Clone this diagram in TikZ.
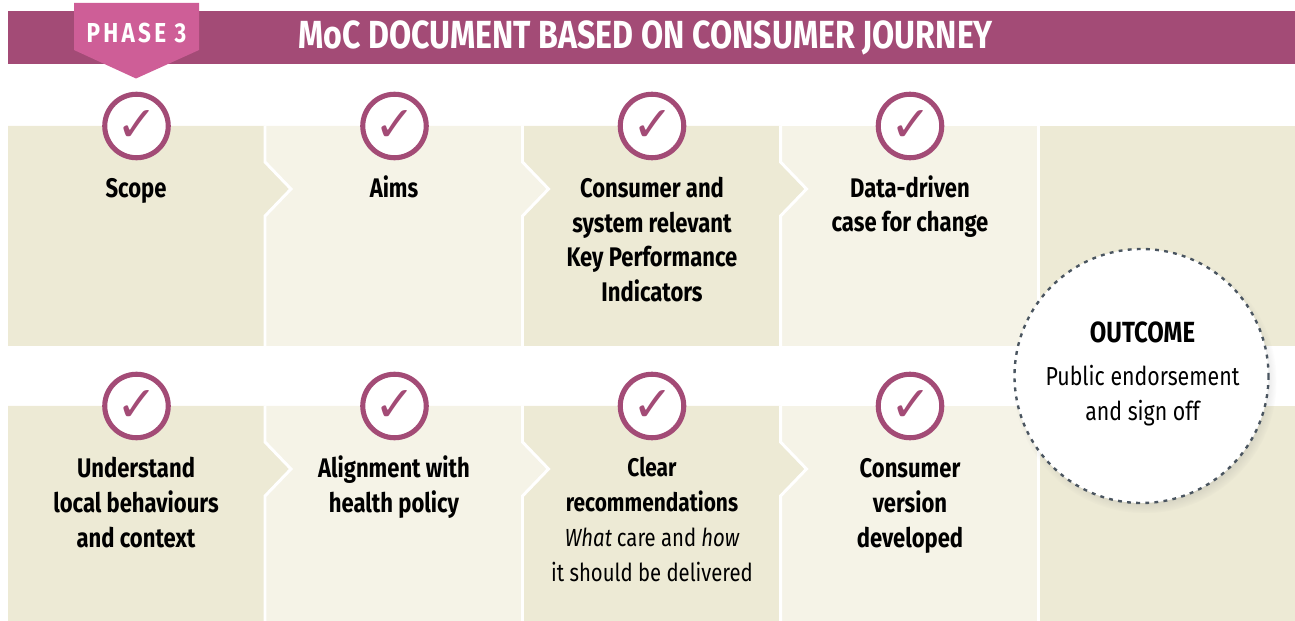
\documentclass[tikz,border=0pt]{standalone}
\usepackage{fontspec}
\setmainfont{Fira Sans}[FakeStretch=0.82]
\newfontfamily\tickfont{DejaVu Sans}
\usetikzlibrary{shadows}
\definecolor{barplum}{HTML}{A34B76}
\definecolor{tagpink}{HTML}{CE5E97}
\definecolor{paneldark}{HTML}{EDEAD5}
\definecolor{panellight}{HTML}{F5F3E7}
\definecolor{dotgrey}{HTML}{4A5560}
\newcommand{\panelbox}[4]{\fill[#1] (#2,#3) -- (#2+257,#3) -- (#2+257,#3+36) -- (#2+283,#3+63) -- (#2+257,#3+90) -- (#2+257,#4) -- (#2,#4) -- cycle;
\draw[panelgap] (#2+257,#3) -- (#2+257,#3+36) -- (#2+283,#3+63) -- (#2+257,#3+90) -- (#2+257,#4);}
\newcommand{\tick}{\raisebox{-3.2pt}{\hspace{1pt}✓}}
\newcommand{\plain}{\normalfont\fontsize{14.1}{19.75}\selectfont}
\tikzset{
  panelgap/.style={white,line width=1.7pt,miter limit=10},
  tickring/.style={circle,draw=barplum,line width=2.9pt,fill=white,minimum size=1.27cm,inner sep=0pt,text=barplum,font=\tickfont\fontsize{28}{28}\selectfont},
  label/.style={anchor=base,align=center,text=black,font=\fontsize{15.3}{19.75}\selectfont\bfseries},
  note/.style={anchor=base,align=center,text=black,font=\fontsize{14.8}{19.75}\selectfont}
}
\begin{document}
\begin{tikzpicture}[x=0.02cm,y=-0.02cm]
\useasboundingbox (0,0) rectangle (1295,621);
\fill[barplum] (8,11) rectangle (1295,64);
\fill[tagpink] (74,3) -- (199,3) -- (199,50) -- (136,78.5) -- (74,50) -- cycle;
\path (136.5,33.5) node (tagtext) {\textcolor{white}{\fontsize{15.6}{16}\selectfont\bfseries\addfontfeature{LetterSpace=12}PHASE 3}};
\path (645.5,38) node (title) {\textcolor{white}{\fontsize{22.3}{24}\selectfont\bfseries MoC DOCUMENT BASED ON CONSUMER JOURNEY}};

\fill[paneldark] (1039,126) rectangle (1295,346);
\fill[panellight] (781,126) rectangle (1038,346);
\draw[panelgap] (1038.5,126) -- (1038.5,346);
\panelbox{paneldark}{523.5}{126}{346}
\panelbox{panellight}{265.5}{126}{346}
\panelbox{paneldark}{8}{126}{346}

\fill[paneldark] (1039,406) rectangle (1295,621);
\fill[panellight] (781,406) rectangle (1038,621);
\draw[panelgap] (1038.5,406) -- (1038.5,621);
\panelbox{paneldark}{523.5}{406}{621}
\panelbox{panellight}{265.5}{406}{621}
\panelbox{paneldark}{8}{406}{621}

\path (136.5,126) node[tickring] (tickA) {\tick};
\path (394.5,126) node[tickring] (tickB) {\tick};
\path (652,126) node[tickring] (tickC) {\tick};
\path (910,126) node[tickring] (tickD) {\tick};
\path (136.5,406) node[tickring] (tickE) {\tick};
\path (394.5,406) node[tickring] (tickF) {\tick};
\path (652,406) node[tickring] (tickG) {\tick};
\path (910,406) node[tickring] (tickH) {\tick};

\path (136,197.5) node[label] (scope) {Scope};
\path (394,197.5) node[label] (aims) {Aims};
\path (652,301.5) node[label] (kpi) {Consumer and\\system relevant\\Key Performance\\Indicators};
\path (910,232) node[label] (data) {Data-driven\\case for change};
\path (136,547) node[label] (local) {Understand\\local behaviours\\and context};
\path (394,512) node[label] (policy) {Alignment with\\health policy};
\path (652,581) node[label,font=\fontsize{14.5}{19.75}\selectfont\bfseries] (clear) {Clear\\recommendations\\{\plain\itshape What} {\plain care and} {\plain\itshape how}\\{\plain it should be delivered}};
\path (910,547) node[label] (version) {Consumer\\version\\developed};

\path (1141.5,376) node[circle,fill=white,minimum size=5.08cm,inner sep=0pt,circular drop shadow={shadow xshift=0.06cm,shadow yshift=-0.1cm,opacity=0.35,shadow scale=1.04}] (outcome) {};
\draw[dotgrey,line width=1.35pt,dash pattern=on 2.2pt off 3pt] (outcome) circle (127);
\path (1142.5,342.5) node[label,font=\fontsize{16.6}{19.75}\selectfont\bfseries] (outcomehead) {OUTCOME};
\path (1142.5,420) node[note] (outcometext) {Public endorsement\\and sign off};
\end{tikzpicture}
\end{document}
